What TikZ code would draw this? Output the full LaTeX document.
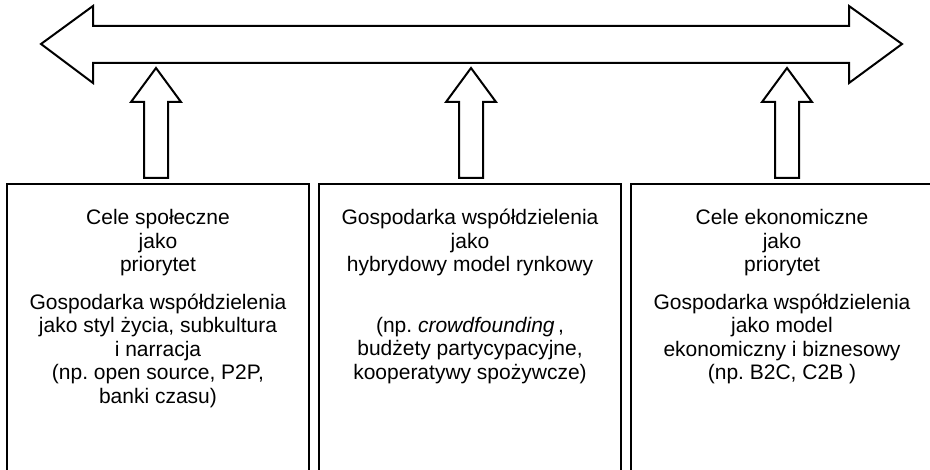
\documentclass[tikz,border=0pt]{standalone}
\usepackage{fontspec}
\setmainfont{Liberation Sans}
\usetikzlibrary{positioning}
\frenchspacing

\begin{document}
\begin{tikzpicture}[x=0.5pt, y=-0.5pt,
        outline/.style={draw, line width=1pt, line join=miter},
        box/.style={draw, line width=1pt, minimum width=151pt, minimum height=170pt, inner sep=0pt},
        txt/.style={align=center, inner sep=0pt, font=\fontsize{10.5}{11.7}\selectfont}]
        \useasboundingbox (0,0) rectangle (930,470);

        % Horizontal double arrow
        \coordinate (tipL) at (41,44);
        \coordinate (tipR) at (902,44);
        \draw[outline] (tipL) -- (93,6) -- (93,26) -- (849,26) -- (849,6) -- (tipR)
            -- (849,83) -- (849,63) -- (93,63) -- (93,83) -- cycle;

        % The three boxes
        \node[box, anchor=north west] (social) at (6,183) {};
        \node[box, anchor=north west] (hybrid) at (318,183) {};
        \node[box, anchor=north west] (econ) at (630,183) {};

        % Box texts
        \node[txt, below=13pt of social.north] (socialtxt) {Cele społeczne\\jako\\priorytet\\[7.3pt]
            Gospodarka współdzielenia\\jako styl życia, subkultura\\i narracja\\(np. open source, P2P,\\banki czasu)};
        \node[txt, below=13pt of hybrid.north] (hybridtxt) {Gospodarka współdzielenia\\jako\\hybrydowy model rynkowy\\[18.6pt]
            (np. \textit{crowdfounding}\,,\\budżety partycypacyjne,\\kooperatywy spożywcze)};
        \node[txt, below=13pt of econ.north] (econtxt) {Cele ekonomiczne\\jako\\priorytet\\[7.3pt]
            Gospodarka współdzielenia\\jako model\\ekonomiczny i biznesowy\\(np. B2C, C2B )};

        % Upward block arrows
        \coordinate (up1) at (156,178);
        \coordinate (up2) at (471,178);
        \coordinate (up3) at (787,178);
        \draw[outline] (up1) ++(-12,0) -- ++(0,-76) -- ++(-13,0) -- ++(25,-34) -- ++(25,34) -- ++(-13,0) -- ++(0,76) -- cycle;
        \draw[outline] (up2) ++(-12,0) -- ++(0,-76) -- ++(-13,0) -- ++(25,-34) -- ++(25,34) -- ++(-13,0) -- ++(0,76) -- cycle;
        \draw[outline] (up3) ++(-12,0) -- ++(0,-76) -- ++(-13,0) -- ++(25,-34) -- ++(25,34) -- ++(-13,0) -- ++(0,76) -- cycle;
    \end{tikzpicture}
\end{document}
